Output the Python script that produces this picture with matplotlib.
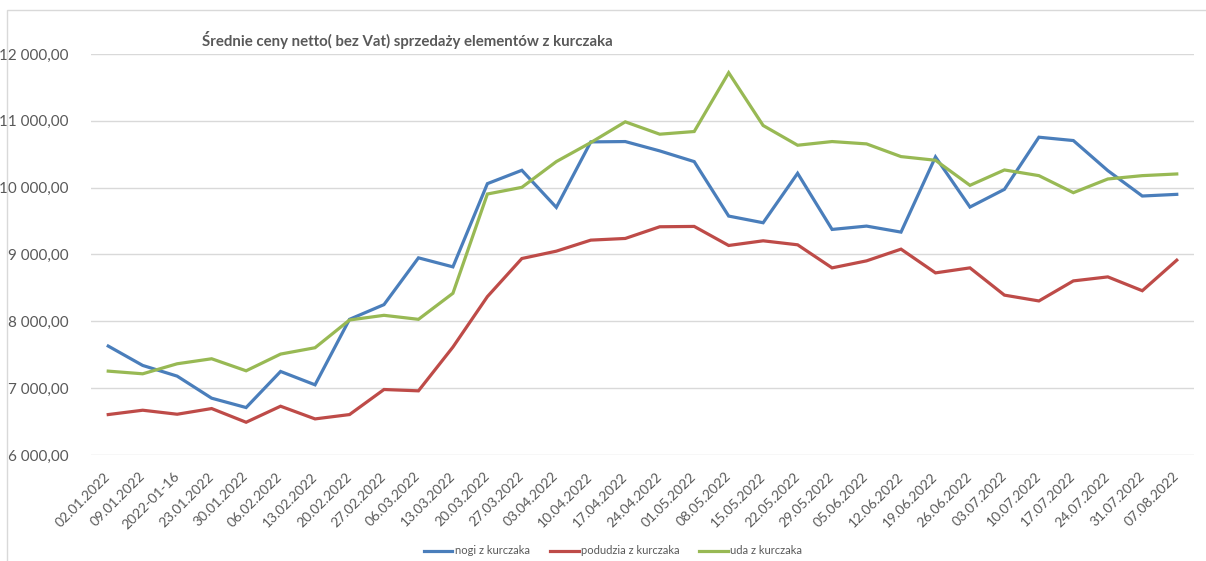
import numpy as np
import matplotlib.pyplot as plt
from matplotlib.patches import Rectangle

plt.rcParams['font.family'] = ['Lato', 'DejaVu Sans']

dates = ["02.01.2022", "09.01.2022", "2022-01-16", "23.01.2022", "30.01.2022",
         "06.02.2022", "13.02.2022", "20.02.2022", "27.02.2022", "06.03.2022",
         "13.03.2022", "20.03.2022", "27.03.2022", "03.04.2022", "10.04.2022",
         "17.04.2022", "24.04.2022", "01.05.2022", "08.05.2022", "15.05.2022",
         "22.05.2022", "29.05.2022", "05.06.2022", "12.06.2022", "19.06.2022",
         "26.06.2022", "03.07.2022", "10.07.2022", "17.07.2022", "24.07.2022",
         "31.07.2022", "07.08.2022"]

nogi = [7630, 7340, 7180, 6850, 6710, 7250, 7050, 8030, 8250, 8950,
        8815, 10060, 10260, 9705, 10685, 10690, 10550, 10390, 9575, 9475,
        10215, 9375, 9425, 9335, 10460, 9710, 9975, 10755, 10705, 10255,
        9875, 9900]

podudzia = [6605, 6670, 6610, 6695, 6490, 6730, 6540, 6605, 6980, 6960,
            7615, 8370, 8940, 9050, 9215, 9240, 9415, 9420, 9135, 9205,
            9145, 8800, 8905, 9080, 8725, 8800, 8392, 8305, 8605, 8665,
            8458, 8915]

uda = [7255, 7215, 7365, 7440, 7260, 7510, 7605, 8020, 8090, 8030,
       8420, 9905, 10005, 10390, 10675, 10985, 10800, 10840, 11720, 10930,
       10635, 10690, 10655, 10465, 10410, 10035, 10265, 10180, 9925, 10130,
       10180, 10205]

series = [("nogi z kurczaka", nogi, "#4A7EBB"),
          ("podudzia z kurczaka", podudzia, "#BE4B48"),
          ("uda z kurczaka", uda, "#98B954")]

W, H = 1206, 561
fig = plt.figure(figsize=(W / 100, H / 100), dpi=100)
ax = fig.add_axes([91 / W, 1 - 455 / H, (1194 - 91) / W, (455 - 54) / H])

x = np.arange(len(dates))
for name, vals, col in series:
    ax.plot(x, vals, color=col, lw=2.3, label=name, solid_joinstyle='miter')

ax.set_xlim(-0.5, len(dates) - 0.5)
ax.set_ylim(6000, 12000)
yt = np.arange(6000, 12001, 1000)
ax.set_yticks(yt)
ax.set_yticklabels([f"{v:,.2f}".replace(",", " ").replace(".", ",") for v in yt],
                   fontsize=11, color="#595959")
ax.set_xticks(x)
ax.set_xticklabels(dates, rotation=45, ha='right', va='center',
                   rotation_mode='anchor', fontsize=10, color="#595959")
ax.tick_params(axis='x', length=0, pad=14)
ax.tick_params(axis='y', length=0, pad=16)
ax.grid(axis='y', color="#D9D9D9", lw=1)
ax.set_axisbelow(True)
for s in ax.spines.values():
    s.set_visible(False)

fig.text(202 / W, 1 - 40 / H, "Średnie ceny netto( bez Vat) sprzedaży elementów z kurczaka",
         fontsize=10.8, fontweight='bold', color="#595959", ha='left', va='center')

fig.legend(loc='center', bbox_to_anchor=(613 / W, 1 - 551 / H), ncol=3, frameon=False,
           fontsize=8, labelcolor="#595959", handlelength=2.6, handletextpad=0.2,
           columnspacing=1.8)

fig.patches.append(Rectangle((7 / W, -0.05), 1.1, 1 - 10 / H + 0.05, transform=fig.transFigure,
                             fill=False, edgecolor="#D9D9D9", lw=1))

fig.savefig("out.png", dpi=100)
